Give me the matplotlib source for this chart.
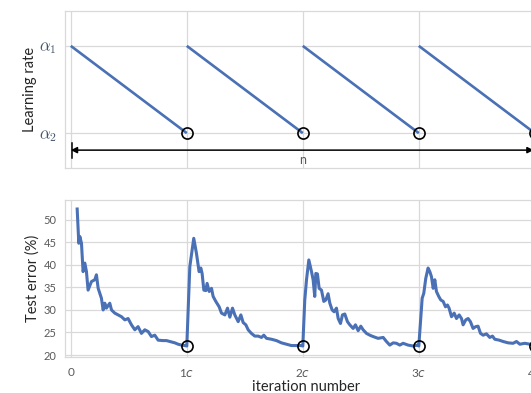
#!/usr/bin/env python3

import numpy as np
import matplotlib.pyplot as plt

# test error per cycle: position inside the cycle (0..1) and error in %
frac_c1 = [0.055, 0.069, 0.078, 0.092, 0.106, 0.121, 0.135, 0.149, 0.178, 0.207,
           0.221, 0.236, 0.264, 0.279, 0.293, 0.307, 0.336, 0.351, 0.379, 0.408,
           0.437, 0.466, 0.494, 0.523, 0.552, 0.580, 0.609, 0.638, 0.667, 0.695,
           0.724, 0.753, 0.796, 0.825, 0.853, 0.897, 0.925, 0.954, 0.983, 1.0]
err_c1 = [52.4, 44.8, 46.3, 44.8, 38.5, 40.4, 38.5, 34.4, 36.3, 36.7,
          37.8, 34.8, 32.6, 30.0, 31.5, 30.4, 31.5, 30.0, 29.3, 28.9,
          28.5, 27.8, 28.1, 26.7, 25.6, 26.3, 24.8, 25.6, 25.2, 24.1,
          24.4, 23.3, 23.2, 23.2, 23.0, 22.7, 22.4, 22.2, 22.1, 22.0]

frac_c2 = [0.026, 0.060, 0.083, 0.106, 0.121, 0.132, 0.147, 0.164, 0.175, 0.193,
           0.213, 0.227, 0.250, 0.279, 0.299, 0.328, 0.351, 0.371, 0.394, 0.414,
           0.443, 0.466, 0.486, 0.509, 0.529, 0.557, 0.586, 0.615, 0.644, 0.664,
           0.687, 0.730, 0.773, 0.816, 0.859, 0.902, 0.945, 0.983, 1.0]
err_c2 = [39.6, 45.9, 42.6, 38.5, 39.3, 38.1, 34.4, 34.3, 35.9, 34.1,
          34.8, 33.0, 31.9, 30.7, 29.3, 28.9, 30.4, 28.4, 30.4, 28.9,
          27.4, 28.9, 27.2, 26.7, 25.6, 24.8, 24.2, 24.2, 23.9, 24.4,
          23.7, 23.5, 23.2, 22.7, 22.4, 22.1, 22.1, 22.1, 22.0]

frac_c3 = [0.017, 0.032, 0.052, 0.075, 0.089, 0.103, 0.112, 0.126, 0.141, 0.161,
           0.181, 0.198, 0.218, 0.233, 0.253, 0.270, 0.290, 0.305, 0.325, 0.342,
           0.362, 0.385, 0.405, 0.434, 0.454, 0.477, 0.500, 0.520, 0.549, 0.578,
           0.606, 0.649, 0.693, 0.721, 0.750, 0.779, 0.807, 0.836, 0.865, 0.908,
           0.951, 0.994, 1.0]
err_c3 = [32.2, 36.7, 41.1, 38.5, 36.7, 33.0, 38.1, 38.0, 34.8, 34.4,
          31.9, 32.2, 33.6, 31.5, 30.0, 29.6, 30.4, 28.1, 27.0, 28.9,
          29.1, 27.4, 26.7, 25.9, 26.7, 25.4, 26.4, 25.6, 24.8, 24.4,
          24.1, 23.7, 23.9, 23.0, 22.2, 22.7, 22.6, 22.2, 22.6, 22.2,
          22.0, 22.2, 22.0]

frac_c4 = [0.029, 0.043, 0.060, 0.080, 0.095, 0.109, 0.124, 0.138, 0.152, 0.172,
           0.190, 0.210, 0.230, 0.247, 0.261, 0.282, 0.305, 0.325, 0.348, 0.368,
           0.382, 0.405, 0.425, 0.445, 0.468, 0.491, 0.511, 0.532, 0.555, 0.583,
           0.612, 0.635, 0.655, 0.693, 0.727, 0.770, 0.813, 0.842, 0.871, 0.914,
           0.957, 1.0]
err_c4 = [32.6, 33.7, 37.0, 39.3, 38.5, 37.4, 34.8, 36.7, 34.1, 33.0,
          32.2, 31.9, 30.7, 31.1, 30.4, 28.5, 29.3, 28.1, 28.9, 28.1,
          26.7, 27.8, 28.1, 27.4, 25.9, 26.3, 26.4, 24.8, 24.4, 24.7,
          23.9, 24.2, 23.5, 23.3, 23.0, 22.7, 22.6, 23.0, 22.4, 22.6,
          22.4, 22.3]

snapshot_err = [22.0, 22.0, 22.0, 22.1]
alpha1, alpha2 = 1.0, 0.0
n_cycles = 4
xtick_labels = ['0', r'1$c$', r'2$c$', r'3$c$', r'4$c$']
err_ticks = [20, 25, 30, 35, 40, 45, 50]

blue = '#4a70b5'
grid_c = '#d9d9d9'
txt_c = '#595959'

plt.rcParams['font.family'] = ['Lato', 'DejaVu Sans']
plt.rcParams['mathtext.fontset'] = 'cm'

fig = plt.figure(figsize=(5.31, 3.93), dpi=100)
ax1 = fig.add_axes([0.1224, 0.5725, 0.9066, 0.3995])
ax2 = fig.add_axes([0.1224, 0.0916, 0.9066, 0.3995])

for ax in (ax1, ax2):
    ax.set_xlim(-0.05, 4.1)
    ax.set_xticks(range(n_cycles + 1))
    ax.grid(True, color=grid_c, lw=0.9)
    ax.set_axisbelow(True)
    for s in ax.spines.values():
        s.set_color(grid_c)
        s.set_linewidth(0.9)
    ax.tick_params(length=0, colors=txt_c)

# top: learning rate schedule
for k in range(n_cycles):
    ax1.plot([k, k + 1], [alpha1, alpha2], color=blue, lw=1.9, solid_capstyle='butt')
ax1.plot(range(1, n_cycles + 1), [alpha2] * n_cycles, 'o', ms=8, mfc='none',
         mec='black', mew=1.2)
ax1.set_ylim(-0.40, 1.40)
ax1.set_yticks([alpha1, alpha2])
ax1.set_yticklabels([r'$\alpha_1$', r'$\alpha_2$'], fontsize=12, color='#44546a')
ax1.tick_params(axis='y', pad=6)
ax1.set_xticklabels([])
ax1.annotate('', xy=(3.99, -0.195), xytext=(0.0, -0.195),
             arrowprops=dict(arrowstyle='<|-|>', color='black', lw=1.1,
                             mutation_scale=9, shrinkA=0, shrinkB=0))
ax1.plot([0.01, 0.01], [-0.115, -0.28], color='black', lw=1.1)
ax1.text(2, -0.31, 'n', ha='center', va='center', fontsize=9, color=txt_c)
ax1.set_ylabel('Learning rate', fontsize=10.5, color='#262626', labelpad=1)

# bottom: test error
xs, ys = [], []
for k, (fr, er) in enumerate([(frac_c1, err_c1), (frac_c2, err_c2),
                              (frac_c3, err_c3), (frac_c4, err_c4)]):
    xs += [k + f for f in fr]
    ys += er
ax2.plot(xs, ys, color=blue, lw=2.2)
ax2.plot(range(1, n_cycles + 1), snapshot_err, 'o', ms=8, mfc='none',
         mec='black', mew=1.2)
ax2.set_ylim(19.56, 54.4)
ax2.set_yticks(err_ticks)
ax2.set_xticklabels(xtick_labels, fontsize=8.5, math_fontfamily='dejavusans')
ax2.tick_params(axis='y', labelsize=8, pad=6)
ax2.tick_params(axis='x', pad=7)
ax2.set_ylabel('Test error (%)', fontsize=10.5, color='#262626', labelpad=3)
ax2.set_xlabel('iteration number', fontsize=10.5, color='#262626', labelpad=1)

fig.savefig('out.png', dpi=100)
